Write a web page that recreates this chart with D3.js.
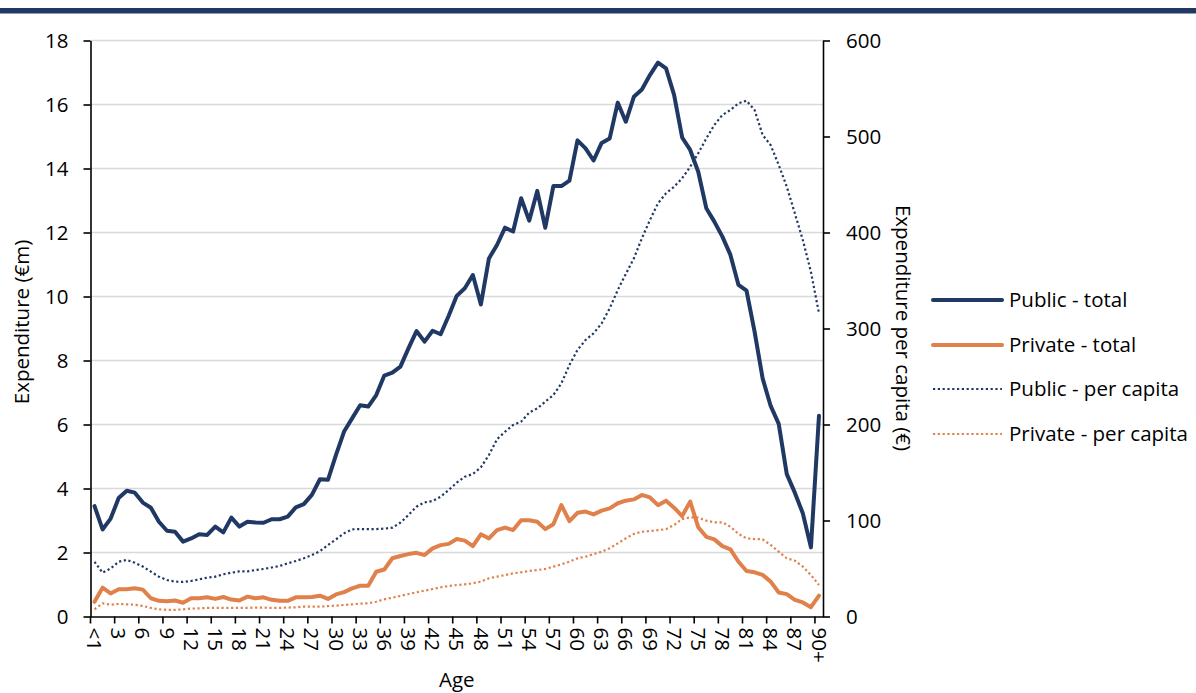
<!DOCTYPE html>
<html>
<head>
<meta charset="utf-8">
<script src="https://cdn.jsdelivr.net/npm/d3@7"></script>
<style>
  html, body { margin: 0; padding: 0; background: #fff; }
  svg text { font-family: "Open Sans", "Noto Sans", sans-serif; fill: #000; }
</style>
</head>
<body>
<svg id="chart" width="1196" height="693"></svg>
<script>
// ---- data ----
const ages = ["<1"].concat(d3.range(1, 90).map(String), ["90+"]);

const publicTotal = [3.45,2.72,3.06,3.70,3.93,3.87,3.56,3.40,2.96,2.68,
  2.65,2.34,2.44,2.57,2.55,2.81,2.63,3.09,2.81,2.96,
  2.94,2.93,3.04,3.04,3.12,3.41,3.51,3.80,4.29,4.27,
  5.05,5.78,6.19,6.60,6.56,6.92,7.53,7.62,7.81,8.38,
  8.92,8.59,8.93,8.82,9.40,10.02,10.26,10.67,9.75,11.19,
  11.61,12.15,12.03,13.07,12.37,13.30,12.15,13.45,13.45,13.62,
  14.88,14.63,14.25,14.80,14.94,16.06,15.46,16.24,16.47,16.92,
  17.31,17.13,16.30,14.97,14.58,13.90,12.76,12.34,11.87,11.30,
  10.36,10.18,8.90,7.44,6.58,6.02,4.45,3.87,3.22,2.16,6.27];

const privateTotal = [0.46,0.90,0.72,0.85,0.85,0.88,0.84,0.57,0.49,0.48,
  0.50,0.43,0.57,0.57,0.60,0.55,0.61,0.53,0.50,0.62,
  0.57,0.60,0.52,0.49,0.49,0.60,0.60,0.61,0.65,0.55,
  0.69,0.76,0.88,0.96,0.96,1.40,1.47,1.82,1.89,1.95,
  1.99,1.92,2.13,2.23,2.27,2.42,2.37,2.20,2.57,2.44,
  2.70,2.78,2.70,3.01,3.01,2.96,2.73,2.88,3.48,2.98,
  3.24,3.28,3.19,3.31,3.38,3.54,3.62,3.66,3.80,3.72,
  3.48,3.62,3.40,3.14,3.59,2.79,2.49,2.41,2.20,2.10,
  1.71,1.42,1.38,1.30,1.09,0.75,0.70,0.52,0.44,0.29,0.65];

const publicPerCapita = [57,45.6,50,57,59,56,52,46.7,41.5,38,
  36.3,36,37,38.7,40.5,41.5,44,45.6,47,47,
  48.4,49.5,51,52.6,55.4,57.8,60.6,64,68,74.5,
  80.4,86.6,90.8,91.1,91.1,91.1,91.5,92.5,97.7,105.7,
  114.4,118.9,120.3,124.8,131.8,139.4,145.6,148.4,155.4,168.2,
  184.6,192.5,199.5,203,212.3,216.8,223.8,230.7,242.9,262,
  277.6,288,295,305.4,321,340,356.8,373,394,413,
  430.4,440.8,447.7,456.4,468.5,482.5,498,512,522.4,527.6,
  534.6,537.3,527.6,501.6,491,470.3,447.7,420,392,359,315.8];

const privatePerCapita = [7.5,13.7,12.3,13,12.7,12.3,11,8.9,7.5,6.8,
  6.8,7.5,8.2,8.5,8.9,8.9,8.9,8.9,8.9,8.9,
  9.3,9.3,8.9,8.9,9.3,9.6,10.3,10.3,10.2,10.9,
  11.3,12,12.7,13.4,13.7,15.4,17.9,19.6,21.4,23.4,
  25.2,26.9,28.6,30.4,31.8,32.8,33.5,34.6,36.3,39.8,
  41.5,43.2,45,46,47.4,48.4,49.5,51.9,54.4,57.1,
  60.6,62.3,65,67.5,71,76.2,81.4,86,88.3,89,
  90,91,95.3,101.5,103.3,103,99.8,98.1,98.1,93.5,
  86,81.4,80.7,80.4,74.5,67.5,60.6,58.2,51.9,43.2,32.8];

const leftTicks = [0,2,4,6,8,10,12,14,16,18];
const rightTicks = [0,100,200,300,400,500,600];
const xTickLabels = ages.filter((d, i) => i % 3 === 0);

const seriesNames = ["Public - total", "Private - total", "Public - per capita", "Private - per capita"];

// ---- layout ----
const NAVY = "#203864", ORANGE = "#E0804A";
const svg = d3.select("#chart");
const L = 90.5, R = 823, T = 40.5, B = 616.5;
const FS = 20.5;

svg.append("rect").attr("x", 0).attr("y", 8).attr("width", 1196).attr("height", 5.5).attr("fill", NAVY);

const x = d3.scaleBand().domain(ages).range([L, R]).paddingInner(0).paddingOuter(0);
const bw = x.bandwidth();
const xc = d => x(d) + bw / 2;
const yL = d3.scaleLinear().domain([0, 18]).range([B, T]);
const yR = d3.scaleLinear().domain([0, 600]).range([B, T]);

// gridlines
svg.append("g").selectAll("line").data(leftTicks.filter(d => d > 0)).join("line")
  .attr("x1", L).attr("x2", R).attr("y1", d => yL(d)).attr("y2", d => yL(d))
  .attr("stroke", "#D9D9D9").attr("stroke-width", 1.5);

// left axis
const gL = svg.append("g").attr("transform", `translate(${L},0)`)
  .call(d3.axisLeft(yL).tickValues(leftTicks).tickSize(7).tickPadding(15).tickSizeOuter(0));
// right axis
const gR = svg.append("g").attr("transform", `translate(${R},0)`)
  .call(d3.axisRight(yR).tickValues(rightTicks).tickSize(7).tickPadding(16).tickSizeOuter(0));
// bottom axis
const gB = svg.append("g").attr("transform", `translate(0,${B})`)
  .call(d3.axisBottom(x).tickValues(xTickLabels).tickSize(7).tickSizeOuter(0));
gB.selectAll(".tick line").attr("transform", `translate(${-bw / 2},0)`);
gB.selectAll(".tick text")
  .attr("transform", "rotate(90)")
  .attr("x", 11).attr("y", 0).attr("dy", "0.36em")
  .style("text-anchor", "start");

[gL, gR, gB].forEach(g => {
  g.selectAll(".domain").attr("stroke", "#000").attr("stroke-width", 1.6);
  g.selectAll(".tick line").attr("stroke", "#000").attr("stroke-width", 1.6);
  g.selectAll(".tick text").style("font-size", FS + "px").style("font-family", '"Open Sans", sans-serif').attr("fill", "#000");
});

// axis titles
svg.append("text").attr("x", (L + R) / 2).attr("y", 687).attr("text-anchor", "middle")
  .style("font-size", FS + "px").text("Age");
svg.append("text").attr("transform", `translate(22,${322}) rotate(-90)`).attr("text-anchor", "middle")
  .attr("dy", "0.35em").style("font-size", FS + "px").text("Expenditure (€m)");
svg.append("text").attr("transform", `translate(903,${328}) rotate(90)`).attr("text-anchor", "middle")
  .attr("dy", "0.35em").style("font-size", FS + "px").text("Expenditure per capita (€)");

// lines
const lineL = d3.line().x((d, i) => xc(ages[i])).y(d => yL(d));
const lineR = d3.line().x((d, i) => xc(ages[i])).y(d => yR(d));

const styles = [
  { color: NAVY, width: 4, dash: null },
  { color: ORANGE, width: 4, dash: null },
  { color: NAVY, width: 2.2, dash: "2.2,2.6" },
  { color: ORANGE, width: 2.2, dash: "2.2,2.6" }
];

svg.append("path").datum(privatePerCapita).attr("d", lineR).attr("fill", "none")
  .attr("stroke", ORANGE).attr("stroke-width", 2.2).attr("stroke-dasharray", "2.2,2.6");
svg.append("path").datum(publicPerCapita).attr("d", lineR).attr("fill", "none")
  .attr("stroke", NAVY).attr("stroke-width", 2.2).attr("stroke-dasharray", "2.2,2.6");
svg.append("path").datum(privateTotal).attr("d", lineL).attr("fill", "none")
  .attr("stroke", ORANGE).attr("stroke-width", 4).attr("stroke-linejoin", "round").attr("stroke-linecap", "round");
svg.append("path").datum(publicTotal).attr("d", lineL).attr("fill", "none")
  .attr("stroke", NAVY).attr("stroke-width", 4).attr("stroke-linejoin", "round").attr("stroke-linecap", "round");

// legend
const legY = [300, 345, 389, 434];
const leg = svg.append("g");
seriesNames.forEach((name, i) => {
  const s = styles[i];
  const ln = leg.append("line").attr("x1", 933).attr("x2", 1002).attr("y1", legY[i]).attr("y2", legY[i])
    .attr("stroke", s.color).attr("stroke-width", s.width);
  if (s.dash) ln.attr("stroke-dasharray", s.dash);
  else ln.attr("stroke-linecap", "round");
  leg.append("text").attr("x", 1009).attr("y", legY[i]).attr("dy", "0.35em")
    .style("font-size", FS + "px").text(name);
});
</script>
</body>
</html>
